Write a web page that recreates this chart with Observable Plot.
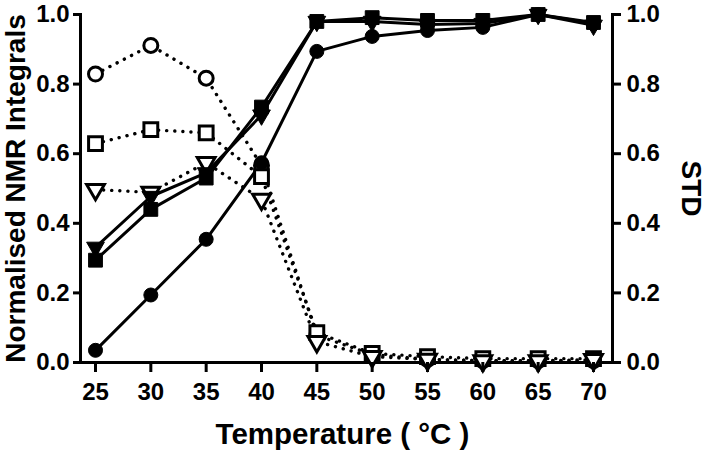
<!DOCTYPE html>
<html>
<head>
<meta charset="utf-8">
<script src="https://cdn.jsdelivr.net/npm/d3@7"></script>
<script src="https://cdn.jsdelivr.net/npm/@observablehq/plot@0.6"></script>
<style>
  html, body { margin: 0; padding: 0; background: #fff; }
  #chart svg { display: block; }
</style>
</head>
<body>
<div id="chart"></div>
<script>
const temps = [25, 30, 35, 40, 45, 50, 55, 60, 65, 70];
const yTicks = [0, 0.2, 0.4, 0.6, 0.8, 1.0];

// Normalised NMR integrals (solid lines, filled markers)
const nmrCircle   = [0.035, 0.194, 0.354, 0.574, 0.894, 0.937, 0.954, 0.963, 1.000, 0.974];
const nmrSquare   = [0.294, 0.440, 0.530, 0.734, 0.980, 0.991, 0.983, 0.983, 1.000, 0.977];
const nmrTriangle = [0.331, 0.477, 0.545, 0.711, 0.980, 0.980, 0.971, 0.974, 1.000, 0.969];

// STD (dotted lines, open markers)
const stdCircle   = [0.829, 0.911, 0.817, 0.566, 0.078, 0.023, 0.009, 0.005, 0.005, 0.005];
const stdSquare   = [0.629, 0.669, 0.660, 0.534, 0.086, 0.026, 0.017, 0.011, 0.011, 0.011];
const stdTriangle = [0.497, 0.489, 0.574, 0.469, 0.060, 0.017, 0.009, 0.005, 0.005, 0.008];

const series = [
  {name: "stdCircle",   values: stdCircle,   symbol: "circle",   rotate: 0,   open: true},
  {name: "stdSquare",   values: stdSquare,   symbol: "square",   rotate: 0,   open: true},
  {name: "stdTriangle", values: stdTriangle, symbol: "triangle", rotate: 180, open: true},
  {name: "nmrCircle",   values: nmrCircle,   symbol: "circle",   rotate: 0,   open: false},
  {name: "nmrSquare",   values: nmrSquare,   symbol: "square",   rotate: 0,   open: false},
  {name: "nmrTriangle", values: nmrTriangle, symbol: "triangle", rotate: 180, open: false}
];

const rows = s => temps.map((t, i) => ({t, v: s.values[i]}));

const font = "Liberation Sans, Arial, Helvetica, sans-serif";

const marks = [];
// axis lines
marks.push(Plot.ruleY([0], {stroke: "black", strokeWidth: 3}));
marks.push(Plot.frame({anchor: "left", stroke: "black", strokeWidth: 3}));
marks.push(Plot.frame({anchor: "right", stroke: "black", strokeWidth: 3}));

for (const s of series) {
  marks.push(Plot.line(rows(s), {
    x: "t", y: "v", stroke: "black",
    strokeWidth: s.open ? 3.4 : 3,
    strokeDasharray: s.open ? "0.1 8" : null,
    strokeLinecap: "round"
  }));
}
for (const s of series) {
  marks.push(Plot.dot(rows(s), {
    x: "t", y: "v", symbol: () => s.symbol, rotate: s.rotate,
    r: s.symbol === "square" ? 7.8 : (s.symbol === "triangle" ? 6.6 : 7),
    fill: s.open ? "white" : "black",
    stroke: "black", strokeWidth: s.open ? 3 : 1
  }));
}

marks.push(Plot.axisX(temps, {anchor: "bottom", tickSize: 10, tickPadding: 10, strokeWidth: 3,
  fontSize: 24, fontWeight: "bold", label: null}));
marks.push(Plot.axisY(yTicks, {anchor: "left", tickSize: 7, tickPadding: 4, strokeWidth: 3,
  tickFormat: d3.format(".1f"), fontSize: 24, fontWeight: "bold", label: null}));
marks.push(Plot.axisY(yTicks, {anchor: "right", tickSize: 8, tickPadding: 6, strokeWidth: 3,
  tickFormat: d3.format(".1f"), fontSize: 24, fontWeight: "bold", label: null}));

marks.push(Plot.text(["Normalised NMR Integrals"], {frameAnchor: "left", rotate: -90, dx: -64,
  fontSize: 28, fontWeight: "bold", textAnchor: "middle", lineAnchor: "middle"}));
marks.push(Plot.text(["STD"], {frameAnchor: "right", rotate: 90, dx: 78,
  fontSize: 28, fontWeight: "bold", textAnchor: "middle", lineAnchor: "middle"}));
marks.push(Plot.text(["Temperature ( °C )"], {frameAnchor: "bottom", dy: 72, dx: -4,
  fontSize: 29.5, fontWeight: "bold", textAnchor: "middle", lineAnchor: "middle"}));

const chart = Plot.plot({
  width: 708,
  height: 452,
  marginLeft: 80,
  marginRight: 96,
  marginTop: 14,
  marginBottom: 90,
  style: {fontFamily: font, color: "black", background: "white", overflow: "visible"},
  x: {domain: [25, 70], insetLeft: 15, insetRight: 19, axis: null},
  y: {domain: [0, 1], axis: null},
  symbol: {type: "identity"},
  marks
});
document.getElementById("chart").appendChild(chart);
</script>
</body>
</html>
